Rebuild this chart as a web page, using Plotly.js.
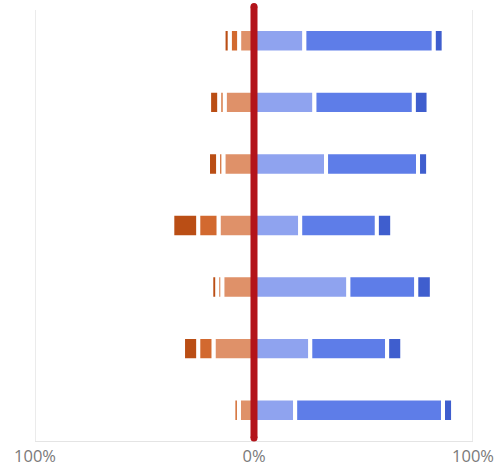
<!DOCTYPE html>
<html>
<head>
<meta charset="utf-8">
<script src="https://cdn.plot.ly/plotly-3.0.1.min.js"></script>
<style>html,body{margin:0;padding:0;background:#fff;}#chart{width:495px;height:466px;}</style>
</head>
<body>
<div id="chart"></div>
<script>
const categories = ['Q1','Q2','Q3','Q4','Q5','Q6','Q7'];
// negative side (share of responses, %), nearest to zero first
const negLight  = [6.8, 13.4, 14.0, 16.2, 14.5, 18.5, 6.9];
const negMedium = [4.3, 2.5, 2.4, 9.3, 2.3, 7.0, 2.5];
const negDark   = [2.8, 4.6, 4.6, 11.8, 2.7, 6.9, null];
// positive side (%)
const posLight  = [23.0, 27.6, 32.9, 21.1, 43.1, 25.7, 18.8];
const posMedium = [59.1, 45.4, 42.0, 35.0, 31.0, 35.1, 67.5];
const posDark   = [4.5, 6.7, 4.6, 7.0, 7.1, 6.9, 4.6];
const tickVals  = [-100, 0, 100];
const tickText  = ['100%', '0%', '100%'];

const colors = {
  negLight: '#DF9169', negMedium: '#D2692F', negDark: '#BA4E15',
  posLight: '#8FA3EF', posMedium: '#5E7DE8', posDark: '#3F5ECE'
};
function neg(a){ return a.map(v => v == null ? null : -v); }
function mk(x, color){
  return {type:'bar', orientation:'h', y:categories, x:x,
    marker:{color:color, line:{color:'#ffffff', width:4}},
    hoverinfo:'skip', showlegend:false};
}
const data = [
  mk(neg(negLight), colors.negLight),
  mk(neg(negMedium), colors.negMedium),
  mk(neg(negDark), colors.negDark),
  mk(posLight, colors.posLight),
  mk(posMedium, colors.posMedium),
  mk(posDark, colors.posDark)
];
const red = '#B3141A';
const grid = '#e4e4e4';
const layout = {
  width:495, height:466,
  margin:{l:35, r:22, t:10, b:25},
  paper_bgcolor:'#fff', plot_bgcolor:'#fff',
  barmode:'relative', bargap:0.62,
  font:{family:'"Open Sans", "Noto Sans", sans-serif', color:'#7a7a7a', size:16.5},
  xaxis:{range:[-100,100], tickvals:tickVals, ticktext:tickText,
    showgrid:true, gridcolor:grid, gridwidth:1, zeroline:false,
    showline:true, linecolor:grid, linewidth:1, ticks:'', fixedrange:true},
  yaxis:{autorange:'reversed', showticklabels:false, showgrid:false, zeroline:false, ticks:'', fixedrange:true},
  shapes:[
    {type:'line', layer:'below', xref:'x', yref:'paper', x0:-100, x1:-100, y0:0, y1:1, line:{color:grid, width:1.5}},
    {type:'line', layer:'below', xref:'x', yref:'paper', x0:100, x1:100, y0:0, y1:1, line:{color:grid, width:1.5}},
    {type:'line', xref:'x', yref:'paper', x0:0, x1:0, y0:0.007, y1:1.008,
     line:{color:red, width:7}},
    {type:'circle', xref:'x', yref:'paper', xsizemode:'pixel', ysizemode:'pixel',
     xanchor:0, yanchor:1.008, x0:-3.5, x1:3.5, y0:-3.5, y1:3.5,
     fillcolor:red, line:{width:0}},
    {type:'circle', xref:'x', yref:'paper', xsizemode:'pixel', ysizemode:'pixel',
     xanchor:0, yanchor:0.007, x0:-3.5, x1:3.5, y0:-3.5, y1:3.5,
     fillcolor:red, line:{width:0}}
  ]
};
Plotly.newPlot('chart', data, layout, {displayModeBar:false, staticPlot:true});
</script>
</body>
</html>
